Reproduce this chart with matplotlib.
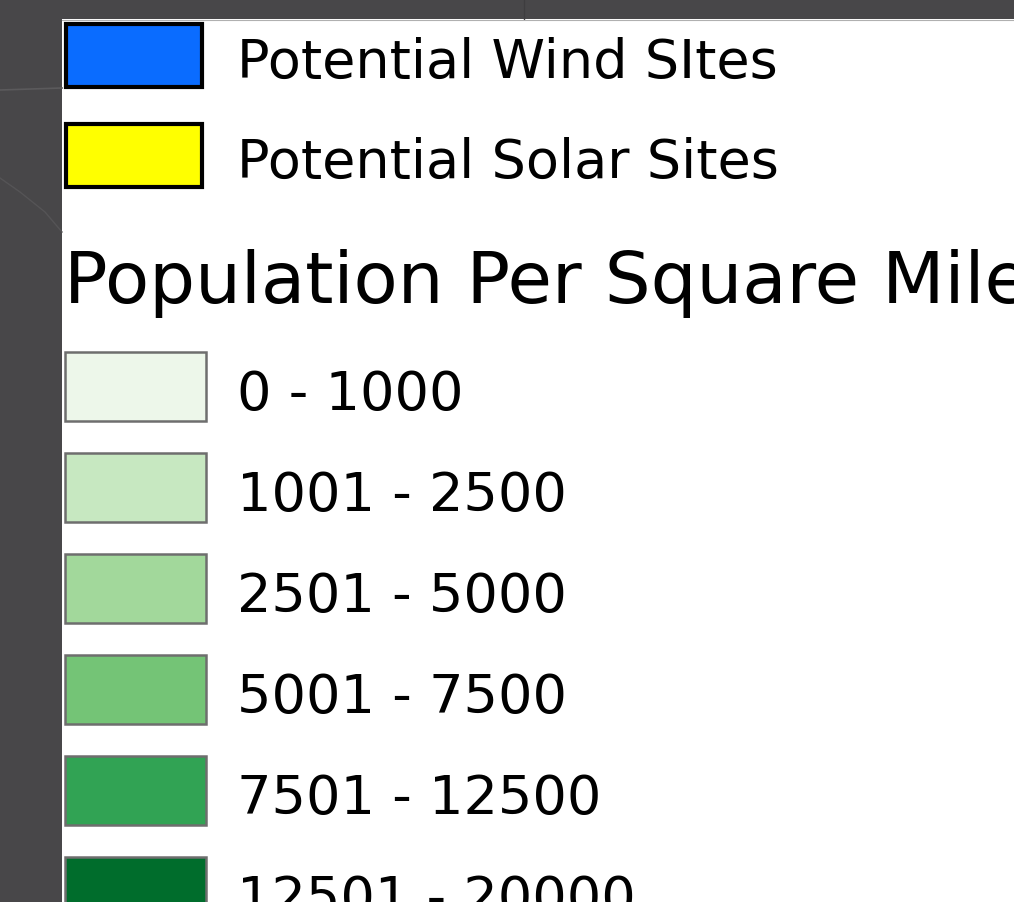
import matplotlib
matplotlib.use("Agg")
import matplotlib.pyplot as plt
from matplotlib.patches import Rectangle

plt.rcParams.update({
    "font.family": "DejaVu Sans",
})

# legend content
SITE_LABELS = ["Potential Wind SItes", "Potential Solar Sites"]
SITE_COLORS = ["#0a6cff", "#ffff00"]

POP_TITLE = "Population Per Square Mile"
POP_LABELS = ["0 - 1000", "1001 - 2500", "2501 - 5000",
              "5001 - 7500", "7501 - 12500", "12501 - 20000"]
POP_COLORS = ["#edf7ea", "#c7e8c1", "#a2d89b", "#74c476", "#31a354", "#006d2c"]

BG_DARK = "#484749"
TEXT = "#000000"

W, H = 1014, 902
fig = plt.figure(figsize=(W / 100, H / 100), dpi=100)
ax = fig.add_axes([0, 0, 1, 1])
ax.set_xlim(0, W)
ax.set_ylim(H, 0)
ax.axis("off")
fig.patch.set_facecolor(BG_DARK)

# faint map remnants in the dark frame
ax.plot([0, 62], [90, 88], color="#5b5a5c", lw=1.2)
ax.plot([0, 20, 45, 62], [178, 192, 212, 232], color="#555456", lw=1.0)
ax.plot([524, 524], [0, 19], color="#3e3d3f", lw=1.0)

# white legend panel
ax.add_patch(Rectangle((62, 19), W - 62, H - 19, facecolor="white",
                       edgecolor="none"))
ax.plot([62, W], [19.5, 19.5], color="#b0b0b0", lw=0.8)

ITEM_FS = 39
TEXT_X = 237

# site swatches (black outline)
for i, (lab, col) in enumerate(zip(SITE_LABELS, SITE_COLORS)):
    top = 24 + 100 * i
    ax.add_patch(Rectangle((66, top), 136, 63, facecolor=col,
                           edgecolor="#000000", lw=3.0))
    ax.text(TEXT_X, top + 54, lab, fontsize=ITEM_FS, color=TEXT,
            ha="left", va="baseline")

# population title
ax.text(64, 303, POP_TITLE, fontsize=52, color=TEXT, ha="left", va="baseline")

# population swatches (grey outline)
for i, (lab, col) in enumerate(zip(POP_LABELS, POP_COLORS)):
    top = 352 + 101 * i
    ax.add_patch(Rectangle((64.5, top), 141, 69, facecolor=col,
                           edgecolor="#6e6e6e", lw=1.8))
    ax.text(TEXT_X, top + 58, lab, fontsize=ITEM_FS, color=TEXT,
            ha="left", va="baseline")

fig.savefig("out.png", dpi=100, facecolor=fig.get_facecolor())
